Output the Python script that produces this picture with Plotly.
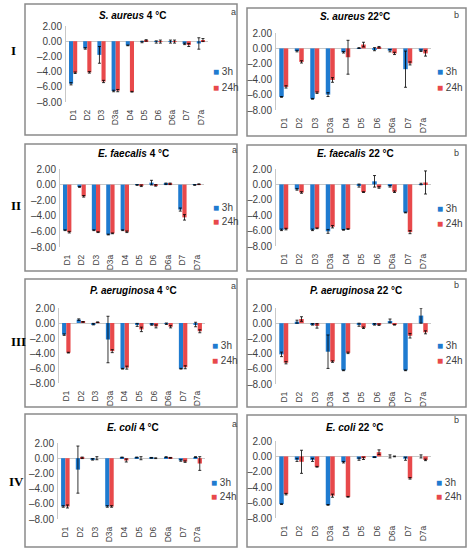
import plotly.graph_objects as go

# data
cats = ['D1', 'D2', 'D3', 'D3a', 'D4', 'D5', 'D6', 'D6a', 'D7', 'D7a']
ytick_vals = [2, 0, -2, -4, -6, -8]
ytick_text = ['2.00', '0.00', '–2.00', '–4.00', '–6.00', '–8.00']
series_names = ['3h', '24h']

titles = ['<i>S. aureus</i> 4 °C', '<i>S. aureus</i> 22°C',
          '<i>E. faecalis</i> 4 °C', '<i>E. faecalis</i> 22 °C',
          '<i>P. aeruginosa</i> 4 °C', '<i>P. aeruginosa</i> 22 °C',
          '<i>E. coli</i> 4 °C', '<i>E. coli</i> 22 °C']
tags = ['a', 'b', 'a', 'b', 'a', 'b', 'a', 'b']
row_labels = ['I', 'II', 'III', 'IV']

sa4_3h = [-5.6, -0.95, -1.8, -6.55, -0.55, -0.1, -0.1, -0.05, -0.35, -0.3]
sa4_3h_e = [0.15, 0.1, 1.1, 0.1, 0.05, 0.1, 0.15, 0.2, 0.1, 0.75]
sa4_24h = [-4.15, -4.1, -5.3, -6.5, -6.65, 0.1, -0.05, -0.05, -0.5, 0.15]
sa4_24h_e = [0.1, 0.1, 0.15, 0.15, 0.05, 0.1, 0.2, 0.2, 0.2, 0.2]

sa22_3h = [-6.3, -0.35, -6.55, -6.0, -0.5, 0.05, -0.1, -0.3, -2.7, -0.3]
sa22_3h_e = [0.05, 0.1, 0.05, 0.25, 0.1, 0.05, 0.2, 0.15, 2.35, 0.1]
sa22_24h = [-5.0, -1.75, -5.75, -4.1, -1.15, 0.5, 0.15, -0.65, -1.95, -0.65]
sa22_24h_e = [0.15, 0.15, 0.1, 0.3, 2.2, 0.3, 0.1, 0.15, 0.2, 0.35]

ef4_3h = [-5.85, -0.3, -5.85, -6.4, -5.85, -0.05, 0.25, 0.1, -3.2, -0.05]
ef4_3h_e = [0.05, 0.05, 0.05, 0.05, 0.05, 0.05, 0.3, 0.1, 0.2, 0.05]
ef4_24h = [-6.1, -1.5, -6.1, -6.25, -6.05, -0.15, -0.1, 0.1, -4.2, 0.05]
ef4_24h_e = [0.1, 0.1, 0.05, 0.05, 0.1, 0.1, 0.1, 0.1, 0.35, 0.05]

ef22_3h = [-5.9, -0.65, -5.9, -6.1, -5.9, -0.15, 0.4, -0.25, -3.65, 0.05]
ef22_3h_e = [0.1, 0.1, 0.1, 0.25, 0.05, 0.2, 0.75, 0.1, 0.05, 0.1]
ef22_24h = [-5.8, -1.05, -5.7, -5.5, -5.8, -1.0, -0.4, -0.95, -6.2, 0.25]
ef22_24h_e = [0.1, 0.1, 0.05, 0.15, 0.05, 0.05, 0.1, 0.1, 0.2, 1.5]

pa4_3h = [-1.55, 0.45, -0.15, -2.2, -6.1, -0.25, -0.2, -0.1, -6.1, -0.2]
pa4_3h_e = [0.1, 0.1, 0.1, 3.1, 0.05, 0.2, 0.1, 0.1, 0.05, 0.3]
pa4_24h = [-3.95, 0.15, 0.1, -3.75, -5.95, -0.85, -0.45, -0.5, -5.9, -1.1]
pa4_24h_e = [0.05, 0.05, 0.05, 0.2, 0.2, 0.3, 0.2, 0.15, 0.2, 0.2]

pa22_3h = [-4.1, 0.2, -0.15, -3.75, -6.2, -0.2, -0.15, 0.3, -6.2, 1.0]
pa22_3h_e = [0.3, 0.2, 0.1, 2.2, 0.05, 0.2, 0.1, 0.25, 0.05, 1.0]
pa22_24h = [-5.2, 0.55, -0.35, -5.05, -3.9, -0.6, -0.2, -0.2, -1.65, -1.2]
pa22_24h_e = [0.15, 0.3, 0.3, 0.1, 0.1, 0.1, 0.1, 0.05, 0.3, 0.2]

ec4_3h = [-6.35, -1.5, -0.15, -6.35, 0.1, 0.1, 0.05, 0.15, -0.3, 0.15]
ec4_3h_e = [0.1, 3.1, 0.1, 0.1, 0.05, 0.05, 0.05, 0.05, 0.1, 0.05]
ec4_24h = [-6.35, 0.05, 0.0, -6.35, -0.3, 0.0, 0.0, 0.05, -0.45, -0.7]
ec4_24h_e = [0.2, 0.1, 0.2, 0.1, 0.2, 0.2, 0.05, 0.05, 0.1, 0.9]

ec22_3h = [-6.2, -0.45, -0.45, -6.3, -0.75, -0.35, -0.1, 0.0, -0.3, 0.0]
ec22_3h_e = [0.05, 0.2, 0.2, 0.05, 0.1, 0.15, 0.05, 0.2, 0.2, 0.2]
ec22_24h = [-4.9, -0.7, -1.35, -5.1, -5.25, -0.25, 0.55, 0.0, -2.85, -0.45]
ec22_24h_e = [0.1, 1.5, 0.05, 0.2, 0.05, 0.15, 0.3, 0.05, 0.1, 0.1]

panels = [
    (sa4_3h, sa4_3h_e, sa4_24h, sa4_24h_e),
    (sa22_3h, sa22_3h_e, sa22_24h, sa22_24h_e),
    (ef4_3h, ef4_3h_e, ef4_24h, ef4_24h_e),
    (ef22_3h, ef22_3h_e, ef22_24h, ef22_24h_e),
    (pa4_3h, pa4_3h_e, pa4_24h, pa4_24h_e),
    (pa22_3h, pa22_3h_e, pa22_24h, pa22_24h_e),
    (ec4_3h, ec4_3h_e, ec4_24h, ec4_24h_e),
    (ec22_3h, ec22_3h_e, ec22_24h, ec22_24h_e),
]

# layout geometry in pixels
W, H = 469, 550
# box x0,x1,y0,y1 | plot x0,x1,ytop,ybot | title x,y | legend x, y1, y2 | tag x,y
geo = [
    ((25, 237, 4, 135), (66, 208, 26, 102), (132, 16), (211, 72, 87), (233, 12)),
    ((247, 466, 8, 136), (276, 431, 33, 110), (355, 17), (435, 71, 87), (456, 15)),
    ((25, 237, 144, 271), (60, 204, 169, 247), (133, 153), (211, 207, 222), (234, 150)),
    ((247, 466, 145, 271), (276, 431, 169, 246), (355, 153), (435, 208, 223), (456, 153)),
    ((25, 237, 279, 407), (59, 205, 308, 383), (133, 290), (210, 345, 360), (233, 286)),
    ((247, 466, 279, 407), (276, 431, 308, 384), (356, 290), (435, 345, 360), (456, 285)),
    ((25, 237, 414, 547), (58, 205, 443, 519), (133, 427), (209, 482, 496), (234, 424)),
    ((247, 466, 415, 547), (276, 431, 441, 518), (354, 427), (434, 482, 496), (456, 420)),
]
row_label_pos = [(9, 50), (9, 206), (9, 341), (7, 481)]

blue = '#1f7bd0'
red = '#e8494b'
colors = [blue, red]
txt = '#404040'
font = 'Liberation Sans'


def px(x):
    return x / W


def py(y):
    return 1 - y / H


fig = go.Figure()
shapes = []
annos = []


def note(x, y, text, size, color=txt, family=font, xanchor='center'):
    annos.append(dict(x=px(x), y=py(y), xref='paper', yref='paper',
                      xanchor=xanchor, yanchor='middle', text=text, showarrow=False,
                      font=dict(family=family, size=size, color=color)))


for i, (vals3, err3, vals24, err24) in enumerate(panels):
    k = '' if i == 0 else str(i + 1)
    box, plot, tpos, lpos, tagpos = geo[i]
    for name, v, e, c in [(series_names[0], vals3, err3, colors[0]),
                          (series_names[1], vals24, err24, colors[1])]:
        fig.add_trace(go.Bar(
            x=cats, y=v, name=name, marker_color=c, marker_line_width=0,
            error_y=dict(type='data', array=e, color='black', thickness=0.8, width=1.5),
            xaxis='x' + k, yaxis='y' + k, showlegend=False))

    fig.layout['xaxis' + k] = dict(
        domain=[px(plot[0]), px(plot[1])], anchor='y' + k,
        tickangle=-90, showline=False, showgrid=False, ticks='', automargin=False,
        ticklabelstandoff=5,
        tickfont=dict(family=font, size=8.5, color=txt))
    fig.layout['yaxis' + k] = dict(
        domain=[py(plot[3]), py(plot[2])], anchor='x' + k,
        range=[-8, 2], autorange=False, tickvals=ytick_vals, ticktext=ytick_text,
        showgrid=False, showline=True, linecolor='#c8c8c8', linewidth=1,
        ticks='', automargin=False, ticklabelstandoff=1,
        zeroline=True, zerolinecolor='#c8c8c8', zerolinewidth=1,
        tickfont=dict(family=font, size=10, color=txt))

    shapes.append(dict(type='rect', xref='paper', yref='paper',
                       x0=px(box[0]), x1=px(box[1]), y0=py(box[3]), y1=py(box[2]),
                       line=dict(color='#8a8a8a', width=1.5), fillcolor='rgba(0,0,0,0)'))

    note(tpos[0], tpos[1], '<b>' + titles[i] + '</b>', 10, color='black')
    note(tagpos[0], tagpos[1], tags[i], 9)
    for j in range(2):
        note(lpos[0], lpos[1 + j],
             '<span style="color:%s">■</span> %s' % (colors[j], series_names[j]),
             10, xanchor='left')

for lab, (x, y) in zip(row_labels, row_label_pos):
    note(x, y, '<b>' + lab + '</b>', 13, color='black',
         family='Liberation Serif', xanchor='left')

fig.update_layout(
    template='none',
    width=W, height=H, autosize=False,
    margin=dict(l=0, r=0, t=0, b=0, pad=0),
    paper_bgcolor='white', plot_bgcolor='white',
    barmode='group', bargap=0.42, bargroupgap=0,
    shapes=shapes, annotations=annos,
    showlegend=False,
)

fig.write_html("out.html", config={'displayModeBar': False},
               post_script="document.body.style.margin='0';")
